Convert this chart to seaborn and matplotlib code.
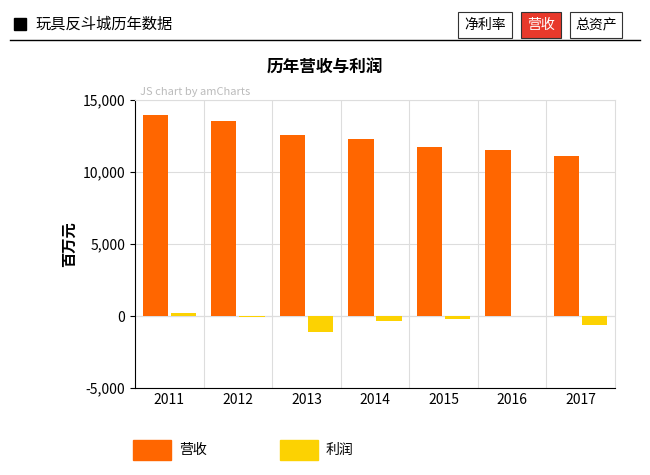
import matplotlib
matplotlib.use("Agg")
import matplotlib.pyplot as plt
import seaborn as sns
import pandas as pd
from matplotlib.patches import Rectangle
from matplotlib import font_manager

names = {f.name for f in font_manager.fontManager.ttflist}
cjk = [n for n in ["Noto Sans CJK SC", "Noto Sans CJK JP", "Noto Sans CJK TC", "Noto Sans CJK KR"] if n in names]
plt.rcParams["font.family"] = "sans-serif"
plt.rcParams["font.sans-serif"] = cjk + ["DejaVu Sans"]
plt.rcParams["axes.unicode_minus"] = False

years = ["2011", "2012", "2013", "2014", "2015", "2016", "2017"]
revenue = [13950, 13550, 12570, 12300, 11750, 11530, 11100]
profit = [200, -50, -1100, -350, -200, -30, -650]

df = pd.DataFrame({"year": years * 2,
                   "value": revenue + profit,
                   "series": ["营收"] * 7 + ["利润"] * 7})

fig = plt.figure(figsize=(6.5, 4.75), dpi=100)
ax = fig.add_axes([135/650, 1-388/475, 480/650, 288/475])
sns.barplot(data=df, x="year", y="value", hue="series",
            palette={"营收": "#FF6600", "利润": "#FCD202"},
            width=0.82, gap=0.1, ax=ax, legend=False, saturation=1)
ax.set_ylim(-5000, 15000)
ax.set_yticks([-5000, 0, 5000, 10000, 15000])
ax.set_yticklabels(["-5,000", "0", "5,000", "10,000", "15,000"], fontsize=10)
ax.set_xticks([i + 0.5 for i in range(6)], minor=True)
ax.tick_params(axis="x", which="major", labelsize=10, length=0)
ax.tick_params(axis="x", which="minor", length=0)
ax.set_xlabel("")
ax.set_ylabel("百万元", fontsize=11, fontweight="bold")
ax.yaxis.grid(True, color="#dddddd", linewidth=0.8)
ax.xaxis.grid(True, which="minor", color="#dddddd", linewidth=0.8)
ax.xaxis.grid(False, which="major")
ax.set_axisbelow(True)
ax.axhline(0, color="#cccccc", linewidth=0.8, zorder=0)
for s in ["top", "right"]:
    ax.spines[s].set_color("#dddddd")
for s in ["left", "bottom"]:
    ax.spines[s].set_color("#000000")
ax.set_xlim(-0.5, 6.5)

fig.text(0.5, 1-68/475, "历年营收与利润", ha="center", va="center", fontsize=12, fontweight="bold")
fig.text(140/650, 1-95/475, "JS chart by amCharts", fontsize=8, color="#bbbbbb")

# header
fig.patches.append(Rectangle((14/650, 1-30/475), 12/650, 12/475, color="black", transform=fig.transFigure))
fig.text(35/650, 1-24/475, "玩具反斗城历年数据", fontsize=11, va="center")
fig.lines.append(plt.Line2D([10/650, 640/650], [1-40/475]*2, color="black", linewidth=1, transform=fig.transFigure))
for x0, w, lbl, fc, tc in [(458, 54, "净利率", "white", "black"), (521, 40, "营收", "#E8392B", "white"), (570, 52, "总资产", "white", "black")]:
    fig.patches.append(Rectangle((x0/650, 1-38/475), w/650, 26/475, facecolor=fc, edgecolor="#333333",
                                 linewidth=0.8, transform=fig.transFigure))
    fig.text((x0 + w/2)/650, 1-25/475, lbl, ha="center", va="center", fontsize=10, color=tc)

# legend
for x0, lbl, c in [(133, "营收", "#FF6600"), (280, "利润", "#FCD202")]:
    fig.patches.append(Rectangle((x0/650, 1-460/475), 38/650, 20/475, color=c, transform=fig.transFigure))
    fig.text((x0 + 46)/650, 1-450/475, lbl, va="center", fontsize=10)

fig.savefig("out.png", dpi=100)
